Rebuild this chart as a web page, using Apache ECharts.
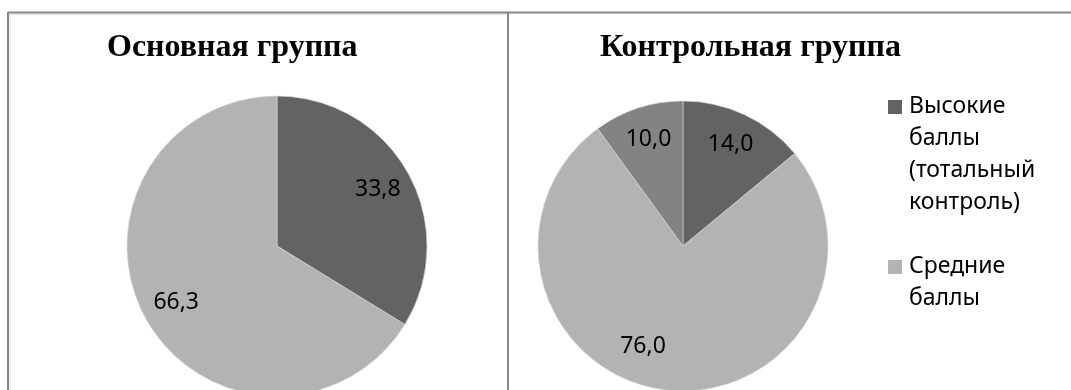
<!DOCTYPE html>
<html>
<head>
<meta charset="utf-8">
<script src="https://cdn.jsdelivr.net/npm/echarts@6/dist/echarts.min.js"></script>
<style>
  html, body { margin: 0; padding: 0; background: #fff; }
  #chart { width: 1071px; height: 390px; }
</style>
</head>
<body>
<div id="chart"></div>
<script>
const categories = ["Высокие баллы (тотальный контроль)", "Средние баллы", "Прочие"];
const mainGroup = [33.8, 66.3];
const controlGroup = [14.0, 76.0, 10.0];
const titles = ["Основная группа", "Контрольная группа"];
const legendLines = [
  ["Высокие", "баллы", "(тотальный", "контроль)"],
  ["Средние", "баллы"],
];

const COLORS = ["#636363", "#b3b3b3", "#838383"];
const LABEL_FONT = "Noto Sans";

const fmt = (v) => v.toFixed(1).replace(".", ",");

const chart = echarts.init(document.getElementById("chart"));

function pieData(values) {
  return values.map((v, i) => ({ name: categories[i], value: v, itemStyle: { color: COLORS[i] } }));
}

// base pie (no labels) + transparent ring on top that carries the labels,
// so "inside" lands around 3/4 of the radius like in the original
function pieSeries(values, center, r, nudge) {
  return [
    {
      type: "pie",
      center: center,
      radius: [0, r],
      startAngle: 90,
      clockwise: true,
      silent: true,
      label: { show: false },
      labelLine: { show: false },
      itemStyle: { borderColor: "#d8d8d8", borderWidth: 0.6 },
      data: pieData(values),
    },
    {
      type: "pie",
      center: center,
      radius: [r / 2, r],
      startAngle: 90,
      clockwise: true,
      silent: true,
      itemStyle: { color: "transparent" },
      label: {
        show: true,
        position: "inside",
        color: "#000",
        fontFamily: LABEL_FONT,
        fontSize: 23,
        formatter: (p) => fmt(p.value),
      },
      labelLine: { show: false },
      // the big slice label sits a bit off the bisector in the original
      labelLayout: (p) => (nudge && nudge[p.dataIndex]) || {},
      data: values.map((v, i) => ({ name: categories[i], value: v })),
    },
  ];
}

const legendGraphics = [];
const legendTops = [90, 250];
legendLines.forEach((lines, i) => {
  legendGraphics.push({
    type: "rect",
    left: 888,
    top: legendTops[i] + 10,
    shape: { width: 14, height: 14 },
    style: { fill: COLORS[i] },
    silent: true,
  });
  legendGraphics.push({
    type: "text",
    left: 909,
    top: legendTops[i],
    style: {
      text: lines.join("\n"),
      fontFamily: LABEL_FONT,
      fontSize: 23,
      lineHeight: 32,
      fill: "#000",
    },
    silent: true,
  });
});

const titleStyle = { fontFamily: "Liberation Serif", fontWeight: "bold", fontSize: 32, color: "#000" };

const option = {
  animation: false,
  backgroundColor: "#fff",
  title: [
    { text: titles[0], left: 102, top: 27, textStyle: titleStyle },
    { text: titles[1], left: 595, top: 27, textStyle: titleStyle },
  ],
  graphic: [
    // frame
    { type: "line", shape: { x1: 8, y1: 12.5, x2: 1071, y2: 12.5 }, style: { stroke: "#868686", lineWidth: 2 }, silent: true },
    { type: "line", shape: { x1: 8, y1: 12, x2: 8, y2: 390 }, style: { stroke: "#868686", lineWidth: 2 }, silent: true },
    { type: "line", shape: { x1: 508, y1: 12, x2: 508, y2: 390 }, style: { stroke: "#868686", lineWidth: 2 }, silent: true },
    { type: "line", shape: { x1: 9.5, y1: 14.5, x2: 506, y2: 14.5 }, style: { stroke: "#e0e0e0", lineWidth: 1 }, silent: true },
    { type: "line", shape: { x1: 10, y1: 14, x2: 10, y2: 390 }, style: { stroke: "#e0e0e0", lineWidth: 1 }, silent: true },
    ...legendGraphics,
  ],
  series: [
    ...pieSeries(mainGroup, [277, 246], 150),
    ...pieSeries(controlGroup, [683, 246], 145, { 1: { dx: -26, dy: -10 } }),
  ],
};

chart.setOption(option);
</script>
</body>
</html>
